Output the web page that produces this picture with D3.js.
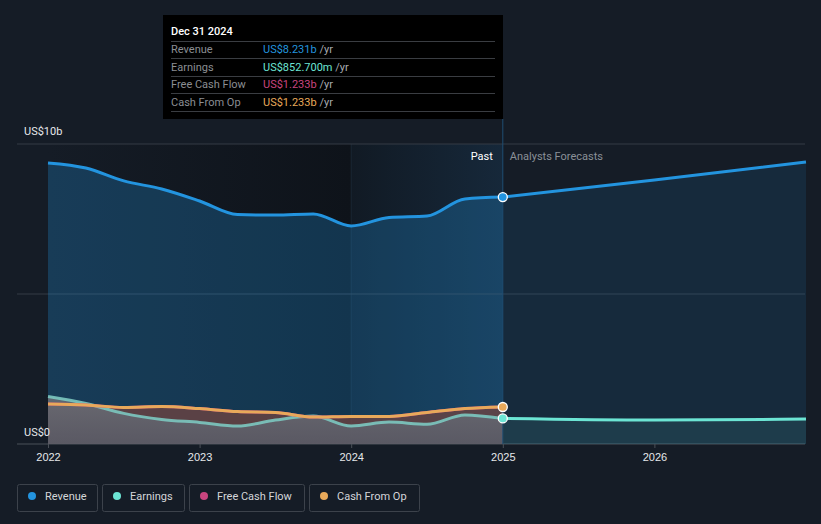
<!DOCTYPE html>
<html><head><meta charset="utf-8">
<script src="https://cdn.jsdelivr.net/npm/d3@7"></script>
<style>
html,body{margin:0;padding:0;background:#151c26;}
svg{display:block;font-family:Roboto,"Noto Sans",sans-serif;}
</style></head>
<body><svg id="c" width="821" height="524"></svg>
<script>
// ---- data ----
const pastDates = [2022.0,2022.25,2022.5,2022.75,2023.0,2023.25,2023.5,2023.75,2024.0,2024.25,2024.5,2024.75,2025.0];
const revenuePast = [9.37,9.2,8.77,8.5,8.1,7.65,7.63,7.67,7.27,7.55,7.6,8.17,8.231];
const earningsPast = [1.58,1.35,1.02,0.82,0.72,0.6,0.8,0.93,0.6,0.73,0.66,0.97,0.8527];
const fcfPast = [1.33,1.3,1.22,1.25,1.18,1.08,1.05,0.9,0.92,0.92,1.05,1.18,1.233];
const cfoPast = [1.33,1.3,1.22,1.25,1.18,1.08,1.05,0.9,0.92,0.92,1.05,1.18,1.233];
const foreDates = [2025.0,2026.0,2027.0];
const revenueFore = [8.231,8.8,9.4];
const earningsFore = [0.8527,0.8,0.83];
const xTicks = [2022,2023,2024,2025,2026];
const yTickLabels = ["US$0","US$10b"];
const seriesNames = ["Revenue","Earnings","Free Cash Flow","Cash From Op"];
const seriesColors = ["#2394df","#6ce5d4","#c9457f","#e8a95a"];
const tooltipValues = ["US$8.231b","US$852.700m","US$1.233b","US$1.233b"];

const svg = d3.select("#c");
const x = d3.scaleLinear().domain([2022, 2027]).range([48, 806]);
const y = d3.scaleLinear().domain([0, 10]).range([444, 144]);
const X0 = 17, X1 = 805;

const defs = svg.append("defs");
const g1 = defs.append("linearGradient").attr("id","pastDark").attr("x1",0).attr("x2",1).attr("y1",0).attr("y2",0);
g1.append("stop").attr("offset",0).attr("stop-color","#151c26");
g1.append("stop").attr("offset",1).attr("stop-color","#0e131a");
const g2 = defs.append("linearGradient").attr("id","pastHi").attr("x1",0).attr("x2",1).attr("y1",0).attr("y2",0);
g2.append("stop").attr("offset",0).attr("stop-color","#111a24");
g2.append("stop").attr("offset",1).attr("stop-color","#16283a");
const g3 = defs.append("linearGradient").attr("id","earnFill").attr("x1",0).attr("x2",0).attr("y1",0).attr("y2",1);
g3.append("stop").attr("offset",0).attr("stop-color","#6c7078").attr("stop-opacity",0.85);
g3.append("stop").attr("offset",1).attr("stop-color","#5a6370").attr("stop-opacity",0.7);

// background zones
svg.append("rect").attr("x",x(2022)).attr("y",y(10)).attr("width",x(2024)-x(2022)).attr("height",y(0)-y(10)).attr("fill","url(#pastDark)");
svg.append("rect").attr("x",x(2024)).attr("y",y(10)).attr("width",x(2025)-x(2024)).attr("height",y(0)-y(10)).attr("fill","url(#pastHi)");
svg.append("line").attr("x1",x(2024)).attr("x2",x(2024)).attr("y1",y(10)).attr("y2",y(0)).attr("stroke","#1a2633").attr("stroke-width",1);

// gridlines
[0,5,10].forEach(v=>{
  svg.append("line").attr("x1",X0).attr("x2",X1).attr("y1",y(v)).attr("y2",y(v))
    .attr("stroke", v===0 ? "#4a5058" : "#353b44").attr("stroke-width",1);
});

const pastPts = k => pastDates.map((d,i)=>[d,k[i]]);
const forePts = k => foreDates.map((d,i)=>[d,k[i]]);
const line = d3.line().x(d=>x(d[0])).y(d=>y(d[1])).curve(d3.curveMonotoneX);
const area = d3.area().x(d=>x(d[0])).y0(y(0)).y1(d=>y(d[1])).curve(d3.curveMonotoneX);

// revenue areas
svg.append("path").attr("d",area(pastPts(revenuePast))).attr("fill","#2394df").attr("fill-opacity",0.27);
svg.append("path").attr("d",area(forePts(revenueFore))).attr("fill","#2394df").attr("fill-opacity",0.12);
// small-series areas
svg.append("path").attr("d",area(pastPts(fcfPast))).attr("fill","#6b3f3f").attr("fill-opacity",0.75);
svg.append("path").attr("d",area(pastPts(cfoPast))).attr("fill","#e8a95a").attr("fill-opacity",0.04);
svg.append("path").attr("d",area(pastPts(earningsPast))).attr("fill","url(#earnFill)");
svg.append("path").attr("d",area(forePts(earningsFore))).attr("fill","#6ce5d4").attr("fill-opacity",0.10);

// lines
svg.append("path").attr("d",line(pastPts(revenuePast))).attr("fill","none").attr("stroke","#2394df").attr("stroke-width",3);
svg.append("path").attr("d",line(forePts(revenueFore))).attr("fill","none").attr("stroke","#2394df").attr("stroke-width",3);
svg.append("path").attr("d",line(pastPts(earningsPast))).attr("fill","none").attr("stroke","#7cc8c0").attr("stroke-width",3).attr("stroke-opacity",0.9);
svg.append("path").attr("d",line(forePts(earningsFore))).attr("fill","none").attr("stroke","#6ce5d4").attr("stroke-width",3);
svg.append("path").attr("d",line(pastPts(fcfPast))).attr("fill","none").attr("stroke","#c9457f").attr("stroke-width",3);
svg.append("path").attr("d",line(pastPts(cfoPast))).attr("fill","none").attr("stroke","#e8a95a").attr("stroke-width",3);

// vertical marker line
svg.append("line").attr("x1",x(2025)).attr("x2",x(2025)).attr("y1",119).attr("y2",y(0)).attr("stroke","#1f4d72").attr("stroke-width",1);

// markers
[[revenuePast,"#2394df"],[cfoPast,"#e8a95a"],[earningsPast,"#6ce5d4"]].forEach(([arr,c])=>{
  svg.append("circle").attr("cx",x(2025)).attr("cy",y(arr[arr.length-1])).attr("r",4.5).attr("fill",c).attr("stroke","#fff").attr("stroke-width",1.3);
});

// axes
const xAxis = d3.axisBottom(x).tickValues(xTicks).tickFormat(d3.format("d")).tickSize(4).tickPadding(5);
const ax = svg.append("g").attr("transform",`translate(0,${y(0)})`).call(xAxis);
ax.select(".domain").remove();
ax.selectAll("line").attr("stroke","#4a5058");
ax.selectAll("text").attr("fill","#e6e8eb").attr("font-size",11);

svg.append("text").attr("x",24).attr("y",y(10)-9).attr("fill","#e6e8eb").attr("font-size",11).text(yTickLabels[1]);
svg.append("text").attr("x",24).attr("y",y(0)-8).attr("fill","#e6e8eb").attr("font-size",11).text(yTickLabels[0]);

svg.append("text").attr("x",x(2025)-10).attr("y",160).attr("text-anchor","end").attr("fill","#ffffff").attr("font-size",11).text("Past");
svg.append("text").attr("x",x(2025)+7).attr("y",160).attr("fill","#8a9097").attr("font-size",11).text("Analysts Forecasts");

// tooltip
const tt = svg.append("g");
tt.append("rect").attr("x",163).attr("y",15).attr("width",340).attr("height",104).attr("fill","#000000");
tt.append("text").attr("x",171).attr("y",35).attr("fill","#ffffff").attr("font-size",11).attr("font-weight",500).text("Dec 31 2024");
[41,58,76,93,111].forEach(yy=>{
  tt.append("line").attr("x1",171).attr("x2",495).attr("y1",yy+0.5).attr("y2",yy+0.5).attr("stroke","#3a3d42").attr("stroke-width",1);
});
seriesNames.forEach((n,i)=>{
  const yy = 53 + i*17.5;
  tt.append("text").attr("x",171).attr("y",yy).attr("fill","#8b8e93").attr("font-size",11).text(n);
  const t = tt.append("text").attr("x",263).attr("y",yy).attr("font-size",11);
  t.append("tspan").attr("fill",seriesColors[i]).text(tooltipValues[i]);
  t.append("tspan").attr("fill","#a8abb0").text(" /yr");
});

// legend
const legW = [80,82,115,110];
let lx = 17;
seriesNames.forEach((n,i)=>{
  const lg = svg.append("g").attr("transform",`translate(${lx},484)`);
  lg.append("rect").attr("x",0.5).attr("y",0.5).attr("width",legW[i]).attr("height",27).attr("rx",2).attr("fill","none").attr("stroke","#3c424b");
  lg.append("circle").attr("cx",15).attr("cy",12).attr("r",4).attr("fill",seriesColors[i]);
  lg.append("text").attr("x",28).attr("y",16).attr("fill","#d4d6d9").attr("font-size",11).text(n);
  lx += legW[i] + 5;
});
</script></body></html>
